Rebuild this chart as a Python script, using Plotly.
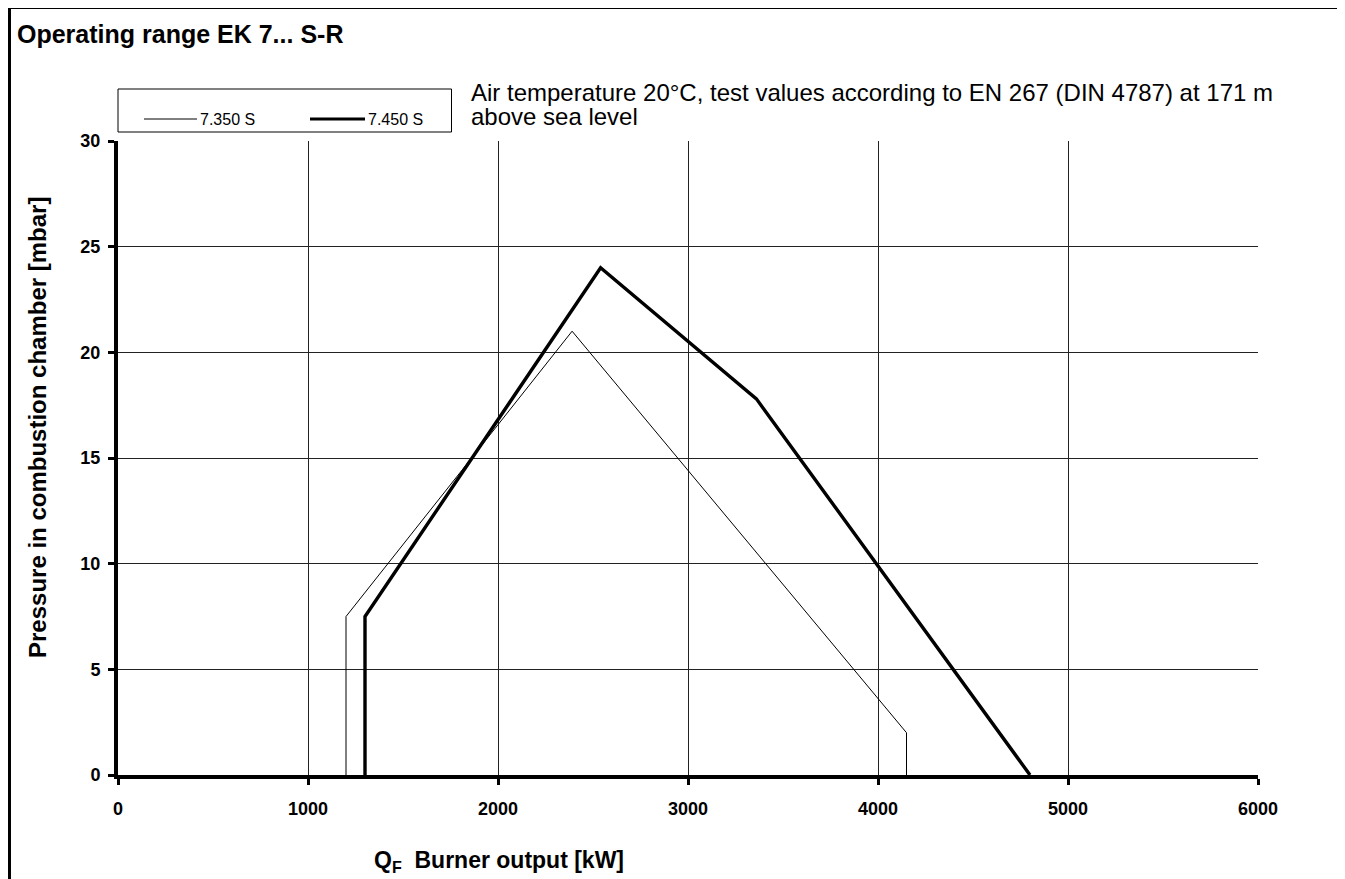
import plotly.graph_objects as go

# ---- data ----
x_7350 = [1200, 1200, 2390, 4150, 4150]
y_7350 = [0, 7.5, 21.0, 2.0, 0]
x_7450 = [1300, 1300, 2540, 3360, 4800]
y_7450 = [0, 7.5, 24.0, 17.8, 0]
names = ["7.350 S", "7.450 S"]
x_ticks = [0, 1000, 2000, 3000, 4000, 5000, 6000]
y_ticks = [0, 5, 10, 15, 20, 25, 30]

W, H = 1345, 879
OFF = 8  # default page body margin
L, R, T, B = 118, 1258, 141, 775  # plot area in page pixels
FONT = "Liberation Sans, Arial, sans-serif"


def px(x):
    return (x - L) / (R - L)


def py(y):
    return (B - y) / (B - T)


fig = go.Figure()
fig.add_trace(go.Scatter(x=x_7350, y=y_7350, mode="lines", name=names[0],
                         line=dict(color="black", width=1), showlegend=False))
fig.add_trace(go.Scatter(x=x_7450, y=y_7450, mode="lines", name=names[1],
                         line=dict(color="black", width=3.4), showlegend=False))

shapes = []
# outer frame
shapes.append(dict(type="rect", xref="paper", yref="paper",
                   x0=px(9.5), x1=px(1340), y0=py(900), y1=py(7.5),
                   line=dict(color="black", width=3), fillcolor="rgba(0,0,0,0)"))
# legend box
shapes.append(dict(type="rect", xref="paper", yref="paper",
                   x0=px(118), x1=px(451.5), y0=py(132), y1=py(89),
                   line=dict(color="black", width=1), fillcolor="white"))
shapes.append(dict(type="line", xref="paper", yref="paper",
                   x0=px(144), x1=px(197), y0=py(119), y1=py(119),
                   line=dict(color="black", width=1)))
shapes.append(dict(type="line", xref="paper", yref="paper",
                   x0=px(310), x1=px(365), y0=py(119), y1=py(119),
                   line=dict(color="black", width=3)))

annotations = [
    dict(text="<b>Operating range EK 7... S-R</b>", xref="paper", yref="paper",
         x=px(15), y=py(34), xanchor="left", yanchor="middle", showarrow=False,
         font=dict(family=FONT, size=25, color="black")),
    dict(text=names[0], xref="paper", yref="paper", x=px(198), y=py(119.5),
         xanchor="left", yanchor="middle", showarrow=False,
         font=dict(family=FONT, size=16, color="black")),
    dict(text=names[1], xref="paper", yref="paper", x=px(366), y=py(119.5),
         xanchor="left", yanchor="middle", showarrow=False,
         font=dict(family=FONT, size=16, color="black")),
    dict(text="Air temperature 20°C, test values according to EN 267 (DIN 4787) at 171 m",
         xref="paper", yref="paper", x=px(469), y=py(92.5), xanchor="left", yanchor="middle",
         showarrow=False, font=dict(family=FONT, size=24, color="black")),
    dict(text="above sea level",
         xref="paper", yref="paper", x=px(469), y=py(116.5), xanchor="left", yanchor="middle",
         showarrow=False, font=dict(family=FONT, size=24, color="black")),
    dict(text="<b>Pressure in combustion chamber [mbar]</b>", xref="paper", yref="paper",
         x=px(37), y=py(428), xanchor="center", yanchor="middle", textangle=-90,
         showarrow=False, font=dict(family=FONT, size=24, color="black")),
    dict(text="<b>Q<sub>F</sub>  Burner output [kW]</b>", xref="paper", yref="paper",
         x=px(372), y=py(861), xanchor="left", yanchor="middle",
         showarrow=False, font=dict(family=FONT, size=23, color="black")),
]

fig.update_layout(
    width=W - OFF, height=H - OFF,
    margin=dict(l=L - OFF, r=W - R, t=T - OFF, b=H - B, pad=0),
    paper_bgcolor="white", plot_bgcolor="white",
    shapes=shapes, annotations=annotations,
    showlegend=False,
    font=dict(family=FONT, color="black"),
)
fig.update_xaxes(range=[0, 6000], tickvals=x_ticks, ticktext=[str(v) for v in x_ticks],
                 showgrid=True, gridcolor="#222", gridwidth=1, zeroline=False,
                 showline=True, linecolor="black", linewidth=4,
                 ticks="outside", ticklen=6, tickwidth=3, tickcolor="black",
                 ticklabelstandoff=8,
                 tickfont=dict(family=FONT, size=18, color="black", weight="bold"))
fig.update_yaxes(range=[0, 30], tickvals=y_ticks, ticktext=[str(v) for v in y_ticks],
                 showgrid=True, gridcolor="#222", gridwidth=1, zeroline=False,
                 showline=True, linecolor="black", linewidth=4,
                 ticks="outside", ticklen=6, tickwidth=3, tickcolor="black",
                 ticklabelstandoff=4,
                 tickfont=dict(family=FONT, size=18, color="black", weight="bold"))

fig.write_html("out.html")
